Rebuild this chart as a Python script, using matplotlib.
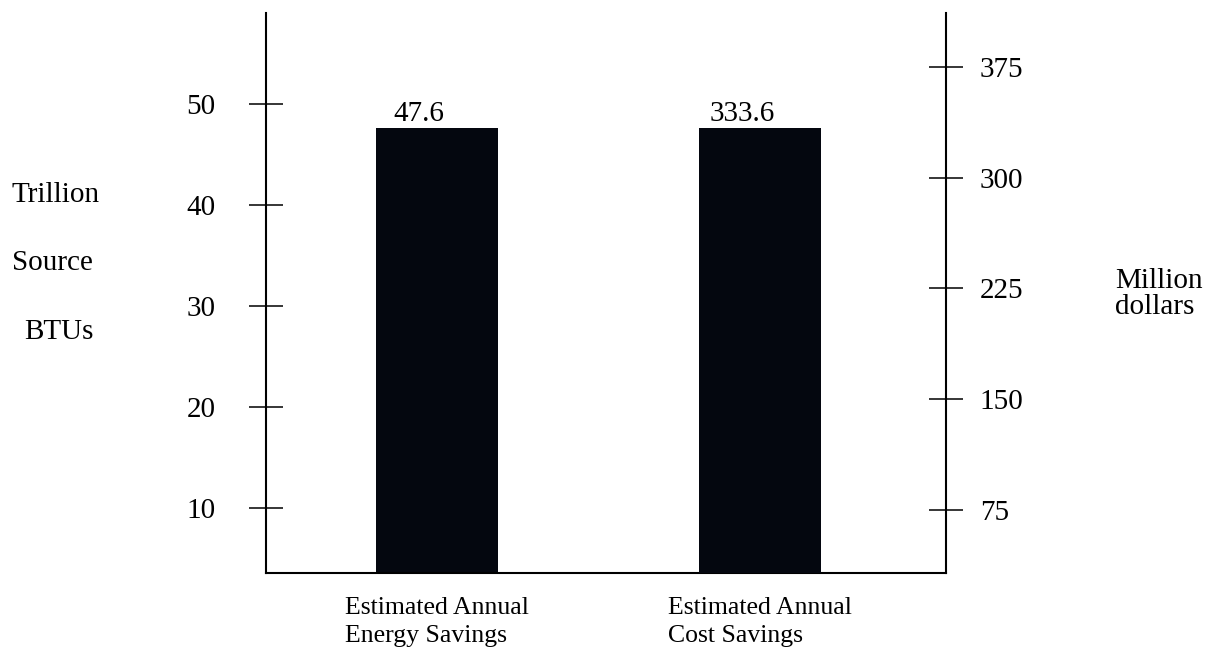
import matplotlib.pyplot as plt

plt.rcParams['font.family'] = ['Liberation Serif', 'DejaVu Serif']

categories = ["Estimated Annual\nEnergy Savings", "Estimated Annual\nCost Savings"]
energy_savings = 47.6   # trillion source BTUs
cost_savings = 333.6    # million dollars
left_ticks = [10, 20, 30, 40, 50]
right_ticks = [75, 150, 225, 300, 375]

W, H = 1217, 654
fig = plt.figure(figsize=(W / 100, H / 100), dpi=100)
ax = fig.add_axes([266 / W, (H - 573) / H, 680 / W, 560 / H])
ax2 = ax.twinx()

bar_color = '#04070f'
fs = 21
fs_cat = 18.5
x = [0, 1]
width = 0.38

ax.bar(x[0], energy_savings, width=width, color=bar_color)
ax2.bar(x[1], cost_savings, width=width, color=bar_color)

ax.set_xlim(-0.53, 1.576)
ax.set_ylim(3.57, 58.98)
ax2.set_ylim(32.35, 411.5)

# value labels just above each bar
for a, xi, v in [(ax, x[0], energy_savings), (ax2, x[1], cost_savings)]:
    a.annotate(f"{v}", xy=(xi, v), xytext=(-13, 5), textcoords='offset points',
               ha='center', va='baseline', fontsize=fs)

# axes: left, right and bottom lines only, ticks crossing the lines
for s in ['top', 'right']:
    ax.spines[s].set_visible(False)
for s in ['top', 'left', 'bottom']:
    ax2.spines[s].set_visible(False)
for s in ['left', 'bottom']:
    ax.spines[s].set_linewidth(1.5)
ax2.spines['right'].set_linewidth(1.5)

ax.set_yticks(left_ticks)
ax.tick_params(axis='y', direction='inout', length=24.5, width=1.1, pad=24, labelsize=fs)
ax2.set_yticks(right_ticks)
ax2.tick_params(axis='y', direction='inout', length=24.5, width=1.1, pad=12, labelsize=fs)

ax.set_xticks(x)
ax.set_xticklabels(categories, fontsize=fs_cat)
ax.tick_params(axis='x', length=0, pad=17)
for lbl in ax.get_xticklabels():
    lbl.set_multialignment('left')
    lbl.set_verticalalignment('top')
    lbl.set_linespacing(1.4)

# axis captions
fig.text(12 / W, 1 - 195 / H, "Trillion", fontsize=fs, va='center', ha='left')
fig.text(12 / W, 1 - 263 / H, "Source", fontsize=fs, va='center', ha='left')
fig.text(24 / W, 1 - 332 / H, "BTUs", fontsize=fs, va='center', ha='left')
fig.text(1115 / W, 1 - 294 / H, "Million\ndollars", fontsize=fs, va='center', ha='left',
         linespacing=0.95)

fig.savefig('out.png', dpi=100)
